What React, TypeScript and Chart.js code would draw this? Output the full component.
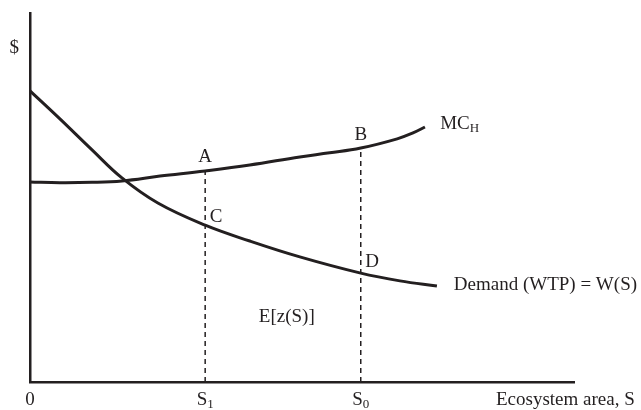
import React, { useEffect, useRef } from "react";
import { Chart, registerables } from "chart.js";

Chart.register(...registerables);

// Marginal cost of habitat conversion (MC_H)
const mcX = [0, 5.5, 11.4, 16.9, 23.9, 32.2, 40.4, 49.6, 55.1, 60.8, 67.5, 70.4, 72.6];
const mcY = [54.2, 54.0, 54.1, 54.5, 55.8, 57.2, 58.8, 61.0, 62.1, 63.4, 65.9, 67.5, 69.1];

// Demand (WTP) = W(S)
const demandX = [0, 5.5, 11.4, 16.9, 23.5, 32.2, 40.4, 49.6, 60.8, 68.0, 74.8];
const demandY = [78.9, 71.3, 62.9, 55.3, 48.5, 42.5, 38.2, 33.9, 29.5, 27.4, 26.0];

// Ecosystem area levels
const S1 = 32.2;
const S0 = 60.8;
const mcAtS1 = 57.2;
const mcAtS0 = 63.4;

// Axis tick labels: [value, main text, subscript]
const xTickLabels: [number, string, string][] = [
  [0, "0", ""],
  [S1, "S", "1"],
  [S0, "S", "0"],
];

// Annotations in data coordinates: [x, y, text, subscript, align]
const annotations: [number, number, string, string, CanvasTextAlign][] = [
  [S1, 61.0, "A", "", "center"],
  [S0, 66.9, "B", "", "center"],
  [34.2, 44.7, "C", "", "center"],
  [62.9, 32.5, "D", "", "center"],
  [47.2, 17.6, "E[z(S)]", "", "center"],
  [75.4, 69.9, "MC", "H", "left"],
  [77.9, 26.3, "Demand (WTP) = W(S)", "", "left"],
  [-2.9, 90.5, "$", "", "center"],
];

const INK = "#231f20";
const FONT = "Liberation Serif";
const FS = 19;

function drawSub(
  ctx: CanvasRenderingContext2D,
  x: number,
  y: number,
  main: string,
  sub: string,
  align: CanvasTextAlign
) {
  ctx.font = `${FS}px "${FONT}"`;
  const wMain = ctx.measureText(main).width;
  ctx.font = `${Math.round(FS * 0.68)}px "${FONT}"`;
  const wSub = sub ? ctx.measureText(sub).width : 0;
  const total = wMain + wSub;
  let left = x;
  if (align === "center") left = x - total / 2;
  else if (align === "right") left = x - total;
  ctx.textAlign = "left";
  ctx.textBaseline = "middle";
  ctx.fillStyle = INK;
  ctx.font = `${FS}px "${FONT}"`;
  ctx.fillText(main, left, y);
  if (sub) {
    ctx.font = `${Math.round(FS * 0.68)}px "${FONT}"`;
    ctx.fillText(sub, left + wMain, y + 5);
  }
}

const labelPlugin = {
  id: "labelPlugin",
  afterDraw(chart: any) {
    const ctx = chart.ctx as CanvasRenderingContext2D;
    const xs = chart.scales.x;
    const ys = chart.scales.y;
    const area = chart.chartArea;
    ctx.save();
    for (const [v, main, sub] of xTickLabels) {
      drawSub(ctx, xs.getPixelForValue(v), area.bottom + 18, main, sub, "center");
    }
    drawSub(ctx, area.right - 78, area.bottom + 18, "Ecosystem area, S", "", "left");
    for (const [x, y, main, sub, align] of annotations) {
      drawSub(ctx, xs.getPixelForValue(x), ys.getPixelForValue(y), main, sub, align);
    }
    ctx.restore();
  },
};

export default function App() {
  const ref = useRef<HTMLCanvasElement | null>(null);

  useEffect(() => {
    document.body.style.margin = "0";
    const canvas = ref.current;
    if (!canvas) return;
    const toPts = (xs: number[], ys: number[]) => xs.map((x, i) => ({ x, y: ys[i] }));
    const chart = new Chart(canvas, {
      type: "line",
      data: {
        datasets: [
          {
            label: "MC_H",
            data: toPts(mcX, mcY),
            borderColor: INK,
            borderWidth: 3,
            pointRadius: 0,
            tension: 0.4,
            fill: false,
          },
          {
            label: "Demand",
            data: toPts(demandX, demandY),
            borderColor: INK,
            borderWidth: 3,
            pointRadius: 0,
            tension: 0.4,
            fill: false,
          },
          {
            label: "S1",
            data: [
              { x: S1, y: 0 },
              { x: S1, y: mcAtS1 },
            ],
            borderColor: INK,
            borderWidth: 1.5,
            borderDash: [5, 4],
            pointRadius: 0,
            fill: false,
          },
          {
            label: "S0",
            data: [
              { x: S0, y: 0 },
              { x: S0, y: mcAtS0 },
            ],
            borderColor: INK,
            borderWidth: 1.5,
            borderDash: [5, 4],
            pointRadius: 0,
            fill: false,
          },
        ],
      },
      options: {
        animation: false,
        responsive: false,
        maintainAspectRatio: false,
        layout: { padding: { left: 30, right: 67, top: 13, bottom: 28 } },
        plugins: { legend: { display: false }, tooltip: { enabled: false } },
        scales: {
          x: {
            type: "linear",
            min: 0,
            max: 100,
            grid: { display: false, drawTicks: false },
            ticks: { display: false },
            border: { display: true, color: INK, width: 2.5 },
          },
          y: {
            type: "linear",
            min: 0,
            max: 100,
            grid: { display: false, drawTicks: false },
            ticks: { display: false },
            border: { display: true, color: INK, width: 2.5 },
          },
        },
      },
      plugins: [labelPlugin],
    });
    return () => chart.destroy();
  }, []);

  return (
    <div style={{ position: "fixed", left: 0, top: 0, width: 641, height: 410, background: "#fff" }}>
      <canvas ref={ref} width={641} height={410} style={{ width: 641, height: 410, display: "block" }} />
    </div>
  );
}
